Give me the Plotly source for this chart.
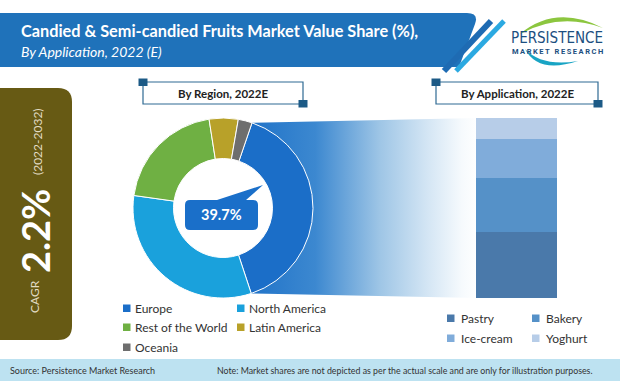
import numpy as np
import plotly.graph_objects as go

W, H = 620, 381

# ---------------- data ----------------
regions = ["Europe", "North America", "Rest of the World", "Latin America", "Oceania"]
region_share = [39.7, 32.3, 20.3, 5.2, 2.5]
region_colors = ["#1b6ec8", "#1aa1dc", "#6fb043", "#b8a129", "#6e6e6e"]

applications = ["Pastry", "Bakery", "Ice-cream", "Yoghurt"]
app_share = [36.5, 30.0, 21.8, 11.7]
app_colors = ["#4a79aa", "#5591c8", "#80acda", "#b7cde8"]

highlight_label = "39.7%"
cagr_label = "CAGR"
cagr_value = "2.2%"
cagr_period = "(2022-2032)"
title = "Candied & Semi-candied Fruits Market Value Share (%),"
subtitle = "By Application, 2022 (E)"
region_box_title = "By Region, 2022E"
app_box_title = "By Application, 2022E"
source_text = "Source: Persistence Market Research"
note_text = "Note: Market shares are not depicted as per the actual scale and are only for illustration purposes."

# ---------------- layout geometry (pixels) ----------------
pie_cx, pie_cy, pie_r, pie_hole = 223, 208, 90, 0.55
pie_rotation = 18.8
bar_x0, bar_x1, bar_y0, bar_y1 = 476, 557, 118, 298

FONT = "Lato, 'Open Sans', sans-serif"

fig = go.Figure()

# ---- gradient funnel from Europe slice to the bar ----
a0 = np.deg2rad(pie_rotation)
a1 = np.deg2rad(pie_rotation + 360 * region_share[0] / sum(region_share))
p_top = (pie_cx + pie_r * np.sin(a0), pie_cy - pie_r * np.cos(a0))
p_bot = (pie_cx + pie_r * np.sin(a1), pie_cy - pie_r * np.cos(a1))
arc = np.linspace(a1, a0, 40)
r_in = 72
fx = [p_top[0], bar_x0 + 2, bar_x0 + 2, p_bot[0]] + list(pie_cx + r_in * np.sin(arc)) + [p_top[0]]
fy = [p_top[1], bar_y0, bar_y1, p_bot[1]] + list(pie_cy - r_in * np.cos(arc)) + [p_top[1]]
fig.add_trace(go.Scatter(
    x=fx, y=fy, mode="none", fill="toself", hoverinfo="skip", showlegend=False,
    fillgradient=dict(type="horizontal", colorscale=[
        [0.0, "#1f72c8"], [0.3, "#3c88d0"], [0.58, "#9fc6e6"],
        [0.78, "#d3e5f4"], [0.93, "#f6fafd"], [1.0, "#ffffff"]]),
    xaxis="x", yaxis="y"))

# ---- donut ----
fig.add_trace(go.Pie(
    labels=regions, values=region_share, sort=False, direction="clockwise",
    rotation=pie_rotation, hole=pie_hole, textinfo="none", showlegend=False,
    marker=dict(colors=region_colors, line=dict(color="white", width=1)),
    domain=dict(x=[(pie_cx - pie_r) / W, (pie_cx + pie_r) / W],
                y=[1 - (pie_cy + pie_r) / H, 1 - (pie_cy - pie_r) / H])))

# ---- stacked bar ----
for name, val, col in zip(applications, app_share, app_colors):
    fig.add_trace(go.Bar(x=[""], y=[val], name=name, marker=dict(color=col, line=dict(width=0)),
                         xaxis="x2", yaxis="y2", showlegend=False, hoverinfo="name+y"))

shapes = []
annotations = []


def rect(x0, y0, x1, y1, fill, line_color=None, lw=0, layer="above"):
    shapes.append(dict(type="rect", xref="x", yref="y", x0=x0, y0=y0, x1=x1, y1=y1,
                       fillcolor=fill, line=dict(color=line_color or fill, width=lw), layer=layer))


def path(d, fill, line_color=None, lw=0, layer="above"):
    shapes.append(dict(type="path", xref="x", yref="y", path=d, fillcolor=fill,
                       line=dict(color=line_color or fill, width=lw), layer=layer))


def text(x, y, s, size, color="#222222", bold=False, italic=False, xanchor="left",
         family=FONT, angle=0):
    if bold:
        s = "<b>" + s + "</b>"
    if italic:
        s = "<i>" + s + "</i>"
    annotations.append(dict(x=x, y=y, xref="x", yref="y", text=s, showarrow=False,
                            xanchor=xanchor, yanchor="middle", textangle=angle,
                            font=dict(size=size, color=color, family=family)))


# ---- header band ----
path("M0,13 L467,13 Q479,13 475,24 L459,67 L0,67 Z", "#1f72ba")
shapes.append(dict(type="line", xref="x", yref="y", x0=444, y0=71, x1=491, y1=21,
                   line=dict(color="#1e6bb3", width=6)))
shapes.append(dict(type="line", xref="x", yref="y", x0=456, y0=71, x1=504, y1=21,
                   line=dict(color="#2ba9e1", width=5)))
text(19, 30, title, 16.3, "white", bold=True, family="Lato, sans-serif")
text(19, 51, subtitle, 14, "white", italic=True, family="Lato, sans-serif")

# ---- logo ----
path("M520,34 Q556,4 603,28 Q560,12 520,34 Z", "#8cc63f")
path("M525,49 Q538,74 578,61 Q542,67 525,49 Z", "#19a4c4")
text(557, 38, "PERSISTENCE", 15, "#1c4f80",
     family="'DejaVu Sans Condensed', 'Liberation Sans Narrow', sans-serif", xanchor="center")
text(557, 51, "<b>" + "\u2009".join("MARKET RESEARCH") + "</b>", 7.5, "#1c4f80",
     family="Roboto, sans-serif", xanchor="center")

# ---- CAGR panel ----
path("M0,88 L58,88 Q72,88 72,102 L72,326 Q72,340 58,340 L0,340 Z", "#675a14")
text(35, 231, cagr_value, 38, "white", bold=True, xanchor="center", angle=-90,
     family="Lato, sans-serif")
text(34, 297, cagr_label, 12, "#e2dcc4", xanchor="center", angle=-90, family="Lato, sans-serif")
text(37, 142, cagr_period, 12, "#e2dcc4", xanchor="center", angle=-90, family="Lato, sans-serif")

# ---- section title boxes ----
for (bx0, bx1, label) in [(143, 303, region_box_title), (436, 598, app_box_title)]:
    rect(bx0, 82, bx1, 104, "white", "#2f6a93", 1.2)
    rect(bx0 - 4.5, 78.5, bx0 + 4.5, 86, "#1c5a86")
    rect(bx1 - 4.5, 100, bx1 + 4.5, 107.5, "#1c5a86")
    text((bx0 + bx1) / 2, 93.5, label, 11.5, "#222222", bold=True, xanchor="center")

# ---- callout ----
path("M190,200 L217,200 L263,185 L246,200 L253,200 Q258,200 258,205 L258,225 "
     "Q258,230 253,230 L190,230 Q185,230 185,225 L185,205 Q185,200 190,200 Z", "#1a6fc9")
text(221.5, 214, highlight_label, 14.5, "white", bold=True, xanchor="center")

# ---- region legend ----
leg_pos = [(123, 308), (237, 308), (123, 327), (237, 327), (123, 347)]
for (lx, ly), name, col in zip(leg_pos, regions, region_colors):
    rect(lx, ly - 3.5, lx + 7.5, ly + 4, col)
    text(lx + 10, ly, name, 12, "#333333")

# ---- application legend ----
app_pos = [(447, 318), (532, 318), (447, 338), (532, 338)]
for (lx, ly), name, col in zip(app_pos, applications, app_colors):
    rect(lx, ly - 3.5, lx + 7.5, ly + 4, col)
    text(lx + 12, ly, name, 12, "#333333")

# ---- footer ----
rect(0, 359, W, H + 1, "#bde2f1")
text(8, 370.5, source_text, 9, "#333333")
text(215, 370.5, note_text, 8.8, "#333333")

fig.update_layout(
    width=W, height=H, margin=dict(l=0, r=0, t=0, b=0),
    paper_bgcolor="white", plot_bgcolor="rgba(0,0,0,0)",
    barmode="stack", bargap=0, showlegend=False,
    xaxis=dict(domain=[0, 1], range=[0, W], visible=False, fixedrange=True),
    yaxis=dict(domain=[0, 1], range=[H, 0], visible=False, fixedrange=True),
    xaxis2=dict(domain=[bar_x0 / W, bar_x1 / W], visible=False, fixedrange=True, anchor="y2"),
    yaxis2=dict(domain=[1 - bar_y1 / H, 1 - bar_y0 / H], range=[0, sum(app_share)],
                visible=False, fixedrange=True, anchor="x2"),
    shapes=shapes, annotations=annotations,
)

fig.write_html("out.html", config={"displayModeBar": False},
               post_script="document.body.style.margin='0px';document.body.style.overflow='hidden';")
